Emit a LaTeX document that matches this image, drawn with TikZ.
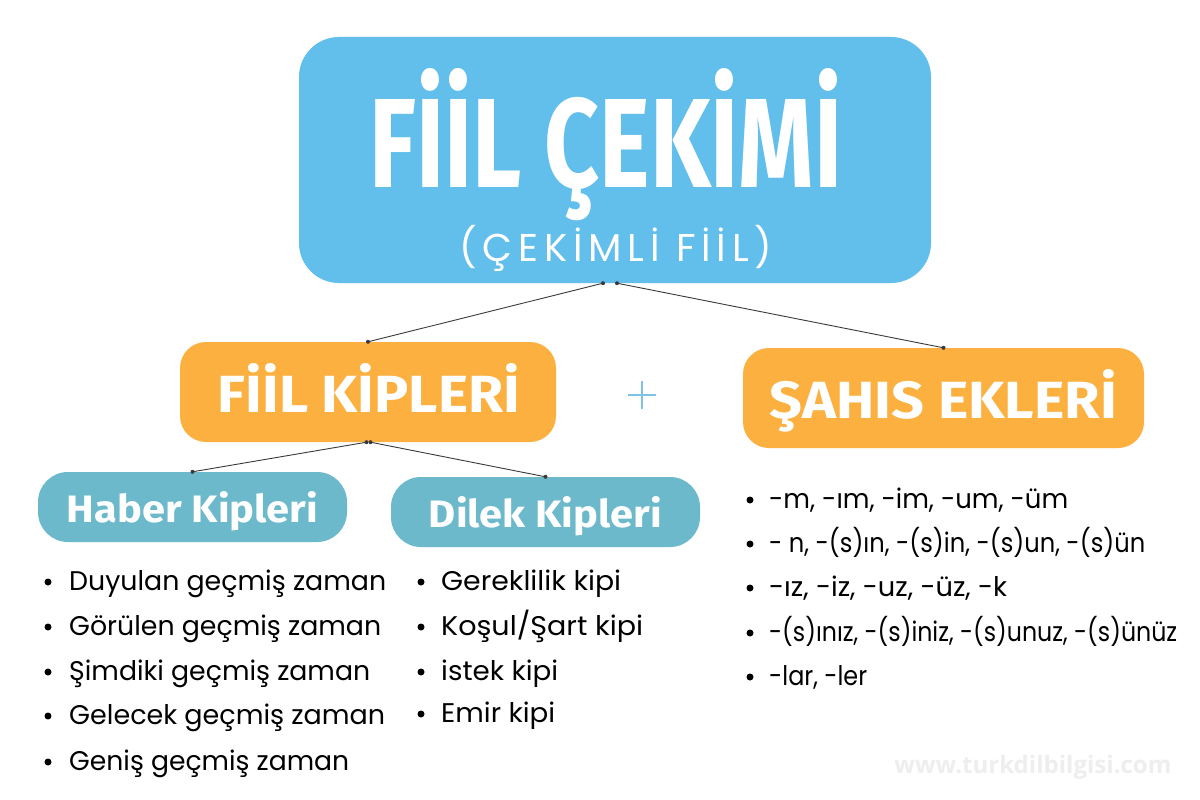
\documentclass[tikz,border=0pt]{standalone}
\usepackage{fontspec}
\usepackage{graphicx}
\setmainfont{Poppins}
\newfontfamily\titlefont{Fira Sans}
\newfontfamily\subfont{Poppins}[LetterSpace=15]
\newfontfamily\listfont{Poppins}
\newfontfamily\markfont{Open Sans}
\definecolor{mainblue}{HTML}{62BEEB}
\definecolor{orangebox}{HTML}{FBB040}
\definecolor{tealbox}{HTML}{6CB9CB}
\definecolor{plusblue}{HTML}{7CC3E6}
\definecolor{linegray}{HTML}{3A3A3A}
\definecolor{wmark}{HTML}{EEEEEE}
\newcommand{\hfit}[2]{\resizebox{#1}{\height}{#2}}
\begin{document}
\begin{tikzpicture}[x=1pt,y=-1pt,
  box/.style={rectangle, draw=none, inner sep=0pt},
  bigbox/.style={box, fill=mainblue, minimum width=632pt, minimum height=246pt, rounded corners=40pt},
  obox/.style={box, fill=orangebox, minimum height=100pt, rounded corners=26pt},
  tbox/.style={box, fill=tealbox, minimum width=309pt, minimum height=70pt, rounded corners=30pt},
  btxt/.style={inner sep=0pt, text=white},
  conn/.style={draw=linegray, line width=0.9pt},
  endpt/.style={circle, fill=linegray, inner sep=0pt, minimum size=4pt},
  litem/.style={anchor=base west, inner sep=0pt, font=\listfont\fontsize{27}{30}\selectfont, text=black},
  bul/.style={circle, fill=black, inner sep=0pt, minimum size=7pt}
]
\useasboundingbox[fill=white] (0,0) rectangle (1200,800);

% boxes
\node[bigbox] (main) at (615,160) {};
\node[obox, minimum width=376pt] (fiil) at (368,392) {};
\node[obox, minimum width=401pt] (sahis) at (943.5,398) {};
\node[tbox] (haber) at (192.5,507) {};
\node[tbox] (dilek) at (545.5,512) {};

% box texts
\node[btxt, anchor=base] (title) at (606,187) {\resizebox{473pt}{119pt}{\titlefont\bfseries FİİL ÇEKİMİ}};
\node[btxt, anchor=base] (subtitle) at (616,261) {\resizebox{313pt}{!}{\subfont\fontsize{36}{40}\selectfont (ÇEKİMLİ FİİL)}};
\node[btxt, anchor=base] (fiilt) at (369,412) {\resizebox{302pt}{49pt}{\titlefont\bfseries FİİL KİPLERİ}};
\node[btxt, anchor=base] (sahist) at (943.5,418) {\resizebox{347pt}{49pt}{\titlefont\bfseries ŞAHIS EKLERİ}};
\node[btxt, anchor=base] (habert) at (192.5,522) {\resizebox{251pt}{31pt}{\titlefont\bfseries Haber Kipleri}};
\node[btxt, anchor=base] (dilekt) at (545.5,527) {\resizebox{233pt}{31pt}{\titlefont\bfseries Dilek Kipleri}};

% connectors
\coordinate (m1) at ([xshift=-12pt]main.south);
\coordinate (m2) at ([xshift=2pt]main.south);
\coordinate (f1) at ([xshift=-1.5pt]fiil.south);
\coordinate (f2) at ([xshift=2.5pt]fiil.south);
\draw[conn] (m1) -- (fiil.north);
\draw[conn] (m2) -- (sahis.north);
\draw[conn] (f1) -- (haber.north);
\draw[conn] (f2) -- (dilek.north);
\foreach \p in {m1,m2,f1,f2,fiil.north,sahis.north,haber.north,dilek.north}
  \node[endpt] at (\p) {};

% plus
\coordinate (pc) at (642,395);
\draw[plusblue, line width=1.4pt] ([xshift=-14pt]pc) -- ([xshift=14pt]pc);
\draw[plusblue, line width=1.4pt] ([yshift=-14pt]pc) -- ([yshift=14pt]pc);

% left list
\node[bul] (hb1) at (48,582) {};
\node[litem] (ht1) at (69,590) {\hfit{317pt}{Duyulan geçmiş zaman}};
\node[bul] (hb2) at (48,627) {};
\node[litem] (ht2) at (69,635) {\hfit{312pt}{Görülen geçmiş zaman}};
\node[bul] (hb3) at (48,672) {};
\node[litem] (ht3) at (69,680) {\hfit{301pt}{Şimdiki geçmiş zaman}};
\node[bul] (hb4) at (48,716) {};
\node[litem] (ht4) at (69,724) {\hfit{316pt}{Gelecek geçmiş zaman}};
\node[bul] (hb5) at (48,762) {};
\node[litem] (ht5) at (69,770) {\hfit{280pt}{Geniş geçmiş zaman}};
% middle list
\node[bul] (db1) at (421,582) {};
\node[litem] (dt1) at (441,590) {\hfit{180pt}{Gereklilik kipi}};
\node[bul] (db2) at (421,627) {};
\node[litem] (dt2) at (441,635) {\hfit{202pt}{Koşul/Şart kipi}};
\node[bul] (db3) at (421,672) {};
\node[litem] (dt3) at (441,680) {\hfit{117pt}{istek kipi}};
\node[bul] (db4) at (421,714) {};
\node[litem] (dt4) at (441,722) {\hfit{114pt}{Emir kipi}};
% right list
\node[bul] (sb1) at (750,500) {};
\node[litem] (st1) at (769,508) {\hfit{299pt}{-m, -ım, -im, -um, -üm}};
\node[bul] (sb2) at (750,544) {};
\node[litem] (st2) at (769,552) {\hfit{376pt}{- n, -(s)ın, -(s)in, -(s)un, -(s)ün}};
\node[bul] (sb3) at (750,588) {};
\node[litem] (st3) at (769,596) {\hfit{238pt}{-ız, -iz, -uz, -üz, -k}};
\node[bul] (sb4) at (750,633) {};
\node[litem] (st4) at (769,641) {\hfit{408pt}{-(s)ınız, -(s)iniz, -(s)unuz, -(s)ünüz}};
\node[bul] (sb5) at (750,677) {};
\node[litem] (st5) at (769,685) {\hfit{98pt}{-lar, -ler}};

% watermark
\node[anchor=base, inner sep=0pt, text=wmark] (wm) at (1033,773) {\resizebox{277pt}{!}{\markfont\bfseries www.turkdilbilgisi.com}};
\end{tikzpicture}
\end{document}
